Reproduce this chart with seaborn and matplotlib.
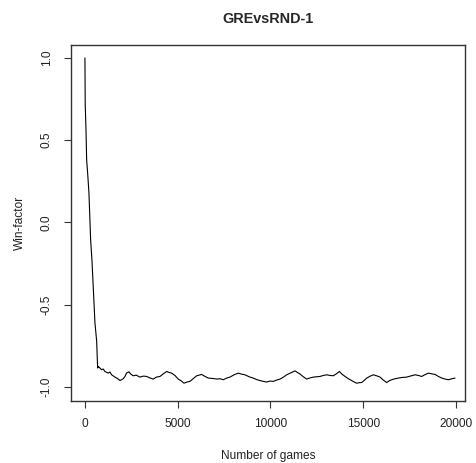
import numpy as np
import pandas as pd
import matplotlib
matplotlib.use("Agg")
import matplotlib.pyplot as plt
import seaborn as sns

# values
games = [0, 16, 20, 60, 92, 146, 216, 307, 377, 447, 539, 631, 685, 717,
         900, 987, 1078, 1256, 1348, 1438, 1617, 1750, 1887, 2066, 2156, 2246,
         2372, 2470, 2604, 2760, 2965, 3150, 3326, 3500, 3683, 3850, 4043,
         4250, 4404, 4540, 4674, 4850, 5030, 5180, 5337, 5500, 5660, 5850,
         6020, 6150, 6290, 6460, 6646, 6870, 7100, 7280, 7456, 7640, 7817,
         8050, 8264, 8440, 8625, 8850, 9073, 9250, 9434, 9610, 9795, 9980,
         10150, 10330, 10512, 10700, 10873, 11100, 11320, 11450, 11590, 11770,
         11950, 12130, 12310, 12490, 12668, 12850, 13030, 13210, 13386, 13550,
         13710, 13850, 14016, 14200, 14377, 14510, 14646, 14780, 14916, 15050,
         15185, 15360, 15542, 15720, 15903, 16080, 16264, 16400, 16534, 16710,
         16890, 17110, 17340, 17560, 17790, 17970, 18150, 18330, 18508, 18690,
         18868, 19050, 19230, 19410, 19587, 19770, 19946]
win_factor = [1.0, 0.715, 0.70, 0.55, 0.38, 0.30, 0.18, -0.106, -0.227, -0.39,
              -0.61, -0.72, -0.885, -0.875, -0.895, -0.891, -0.906, -0.916,
              -0.909, -0.926, -0.940, -0.948, -0.961, -0.950, -0.936, -0.915,
              -0.908, -0.922, -0.932, -0.928, -0.940, -0.934, -0.936, -0.945,
              -0.952, -0.940, -0.936, -0.918, -0.906, -0.912, -0.916, -0.930,
              -0.952, -0.962, -0.977, -0.970, -0.966, -0.948, -0.932, -0.928,
              -0.924, -0.935, -0.946, -0.948, -0.952, -0.950, -0.956, -0.946,
              -0.940, -0.925, -0.916, -0.922, -0.926, -0.938, -0.946, -0.955,
              -0.961, -0.966, -0.970, -0.964, -0.966, -0.958, -0.952, -0.940,
              -0.926, -0.914, -0.902, -0.912, -0.921, -0.938, -0.952, -0.945,
              -0.940, -0.938, -0.936, -0.930, -0.926, -0.930, -0.932, -0.920,
              -0.906, -0.922, -0.936, -0.950, -0.961, -0.970, -0.977, -0.974,
              -0.973, -0.960, -0.946, -0.935, -0.926, -0.932, -0.940, -0.958,
              -0.973, -0.962, -0.956, -0.950, -0.946, -0.942, -0.940, -0.933,
              -0.926, -0.930, -0.936, -0.925, -0.916, -0.920, -0.924, -0.936,
              -0.946, -0.952, -0.956, -0.950, -0.946]
x_ticks = [0, 5000, 10000, 15000, 20000]
y_ticks = [-1.0, -0.5, 0.0, 0.5, 1.0]

sns.set_style("white")
plt.rcParams["font.family"] = ["Liberation Sans", "DejaVu Sans"]

df = pd.DataFrame({"games": games, "win": win_factor})

fig = plt.figure(figsize=(4.76, 4.63), dpi=100)
ax = fig.add_axes([0.149, 0.134, 0.828, 0.769])
sns.lineplot(data=df, x="games", y="win", color="black", linewidth=0.8, ax=ax)

ax.set_xlim(-755, 20485)
ax.set_ylim(-1.085, 1.079)
ax.set_xticks(x_ticks)
ax.set_xticklabels([str(t) for t in x_ticks])
ax.set_yticks(y_ticks)
ax.set_yticklabels([f"{t:.1f}" for t in y_ticks], rotation=90, va="center")

for s in ax.spines.values():
    s.set_visible(True)
    s.set_color("#333333")
    s.set_linewidth(1.0)

ax.tick_params(axis="both", direction="out", length=5, width=0.8,
               color="#333333", labelsize=8.6, labelcolor="#222222",
               bottom=True, left=True)
ax.tick_params(axis="x", pad=7)
ax.tick_params(axis="y", pad=8)

ax.set_xlabel("Number of games", fontsize=8.6, color="#222222", labelpad=15)
ax.set_ylabel("Win-factor", fontsize=8.6, color="#222222", labelpad=11)
ax.set_title("GREvsRND-1", fontsize=10.4, fontweight="bold", pad=16)

fig.savefig("out.png", dpi=100)
